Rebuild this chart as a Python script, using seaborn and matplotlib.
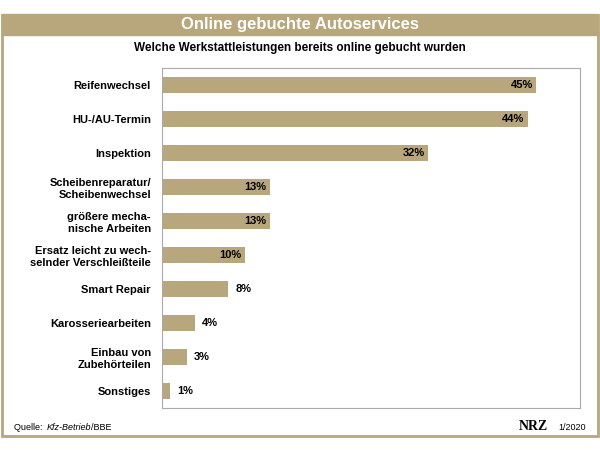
import matplotlib
matplotlib.use("Agg")
import matplotlib.pyplot as plt
import seaborn as sns
import pandas as pd
from matplotlib.patches import Rectangle

categories = ["Reifenwechsel", "HU-/AU-Termin", "Inspektion", "Scheibenreparatur/\nScheibenwechsel",
              "größere mecha-\nnische Arbeiten", "Ersatz leicht zu wech-\nselnder Verschleißteile",
              "Smart Repair", "Karosseriearbeiten", "Einbau von\nZubehörteilen", "Sonstiges"]
values = [45, 44, 32, 13, 13, 10, 8, 4, 3, 1]
value_labels = ["45%", "44%", "32%", "13%", "13%", "10%", "8%", "4%", "3%", "1%"]

df = pd.DataFrame({"cat": categories, "val": values})
khaki = "#b8a67c"
plt.rcParams["font.family"] = "Liberation Sans"

fig = plt.figure(figsize=(6, 4.5), dpi=100)
fig.patches.append(Rectangle((2/600, 14/450), 596/600, 421/450, transform=fig.transFigure,
                             fill=False, edgecolor=khaki, linewidth=2))
fig.patches.append(Rectangle((2/600, (450-35)/450), 596/600, 21/450, transform=fig.transFigure,
                             facecolor=khaki, edgecolor=khaki))
fig.text(0.5, (450-25)/450, "Online gebuchte Autoservices", ha="center", va="center",
         color="white", fontsize=12, fontweight="bold")
fig.text(0.5, (450-48)/450, "Welche Werkstattleistungen bereits online gebucht wurden",
         ha="center", va="center", fontsize=8.5, fontweight="bold")

ax = fig.add_axes([162/600, 42/450, 418/600, 340/450])
sns.barplot(data=df, x="val", y="cat", color=khaki, width=0.45, saturation=1, ax=ax)
ax.set_xlim(0, 50.3)
ax.set_xlabel(""); ax.set_ylabel("")
ax.set_xticks([])
ax.tick_params(axis="y", length=0, pad=8)
for t in ax.get_yticklabels():
    t.set_fontweight("bold"); t.set_fontsize(8); t.set_ha("right")
for s in ax.spines.values():
    s.set_color("#aaaaaa"); s.set_linewidth(0.8)
for i, (v, lab) in enumerate(zip(values, value_labels)):
    if v >= 10:
        ax.text(v - 0.4, i, lab, ha="right", va="center", fontsize=8, fontweight="bold")
    else:
        ax.text(v + 0.8, i, lab, ha="left", va="center", fontsize=8, fontweight="bold")

fig.text(14/600, (450-427)/450, "Quelle: ", fontsize=6.5, va="center")
fig.text(47/600, (450-427)/450, "Kfz-Betrieb", fontsize=6.5, va="center", style="italic")
fig.text(91/600, (450-427)/450, "/BBE", fontsize=6.5, va="center")
fig.text(548/600, (450-427)/450, "NRZ", fontsize=10, va="center", ha="right",
         family="Liberation Serif", fontweight="bold")
fig.text(586/600, (450-427)/450, "1/2020", fontsize=6.5, va="center", ha="right")

fig.savefig("out.png", dpi=100)
